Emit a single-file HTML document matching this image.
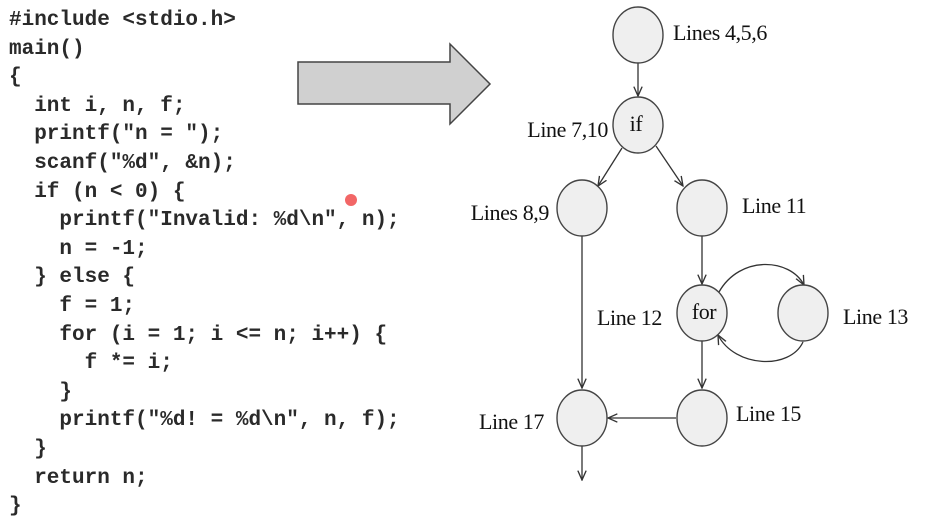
<!DOCTYPE html>
<html><head><meta charset="utf-8"><style>
html,body{margin:0;padding:0;background:#fff;width:940px;height:527px;overflow:hidden}
.code{position:absolute;left:9px;top:7px;font-family:"Liberation Mono",monospace;font-size:21px;font-weight:bold;color:#2a2a2a;line-height:28.6px;white-space:pre;margin:0}
svg{position:absolute;left:0;top:0}
.lbl{font-family:"Liberation Serif",serif;font-size:22px;fill:#111;letter-spacing:-0.4px}
</style></head><body>
<pre class="code">#include &lt;stdio.h&gt;
main()
{
  int i, n, f;
  printf("n = ");
  scanf("%d", &amp;n);
  if (n &lt; 0) {
    printf("Invalid: %d\n", n);
    n = -1;
  } else {
    f = 1;
    for (i = 1; i &lt;= n; i++) {
      f *= i;
    }
    printf("%d! = %d\n", n, f);
  }
  return n;
}</pre>
<svg width="940" height="527">
<defs><marker id="ah" viewBox="0 0 10 10" refX="9" refY="5" markerWidth="8" markerHeight="8" orient="auto"><path d="M0,1 L9,5 L0,9" fill="none" stroke="#333" stroke-width="1.3"/></marker></defs>
<polygon points="298,62 450,62 450,44 490,84 450,124 450,104 298,104" fill="#d0d0d0" stroke="#444" stroke-width="1.5"/>
<circle cx="351" cy="200" r="6" fill="#e33" opacity="0.75"/>
<g stroke="#333" stroke-width="1.3" fill="none">
<line x1="638" y1="63" x2="638" y2="96" marker-end="url(#ah)"/>
<line x1="622" y1="148" x2="598" y2="186" marker-end="url(#ah)"/>
<line x1="656" y1="146" x2="683" y2="186" marker-end="url(#ah)"/>
<line x1="582" y1="236" x2="582" y2="388" marker-end="url(#ah)"/>
<line x1="702" y1="236" x2="702" y2="284" marker-end="url(#ah)"/>
<line x1="702" y1="341" x2="702" y2="388" marker-end="url(#ah)"/>
<line x1="676" y1="418" x2="608" y2="418" marker-end="url(#ah)"/>
<line x1="582" y1="446" x2="582" y2="480" marker-end="url(#ah)"/>
<path d="M719,292 C740,255 790,258 804,285" marker-end="url(#ah)"/>
<path d="M803,342 C790,370 735,368 718,335" marker-end="url(#ah)"/>
</g>
<g fill="#efefef" stroke="#444" stroke-width="1.4">
<ellipse cx="638" cy="35" rx="25" ry="28"/>
<ellipse cx="638" cy="125" rx="25" ry="28"/>
<ellipse cx="582" cy="208" rx="25" ry="28"/>
<ellipse cx="702" cy="208" rx="25" ry="28"/>
<ellipse cx="702" cy="313" rx="25" ry="28"/>
<ellipse cx="803" cy="313" rx="25" ry="28"/>
<ellipse cx="702" cy="418" rx="25" ry="28"/>
<ellipse cx="582" cy="418" rx="25" ry="28"/>
</g>
<text class="lbl" x="673" y="40">Lines 4,5,6</text>
<text class="lbl" x="608" y="137" text-anchor="end">Line 7,10</text>
<text class="lbl" x="636" y="131" text-anchor="middle">if</text>
<text class="lbl" x="549" y="220" text-anchor="end">Lines 8,9</text>
<text class="lbl" x="742" y="213">Line 11</text>
<text class="lbl" x="662" y="325" text-anchor="end">Line 12</text>
<text class="lbl" x="704" y="319" text-anchor="middle">for</text>
<text class="lbl" x="843" y="324">Line 13</text>
<text class="lbl" x="736" y="421">Line 15</text>
<text class="lbl" x="544" y="429" text-anchor="end">Line 17</text>
</svg>
</body></html>
